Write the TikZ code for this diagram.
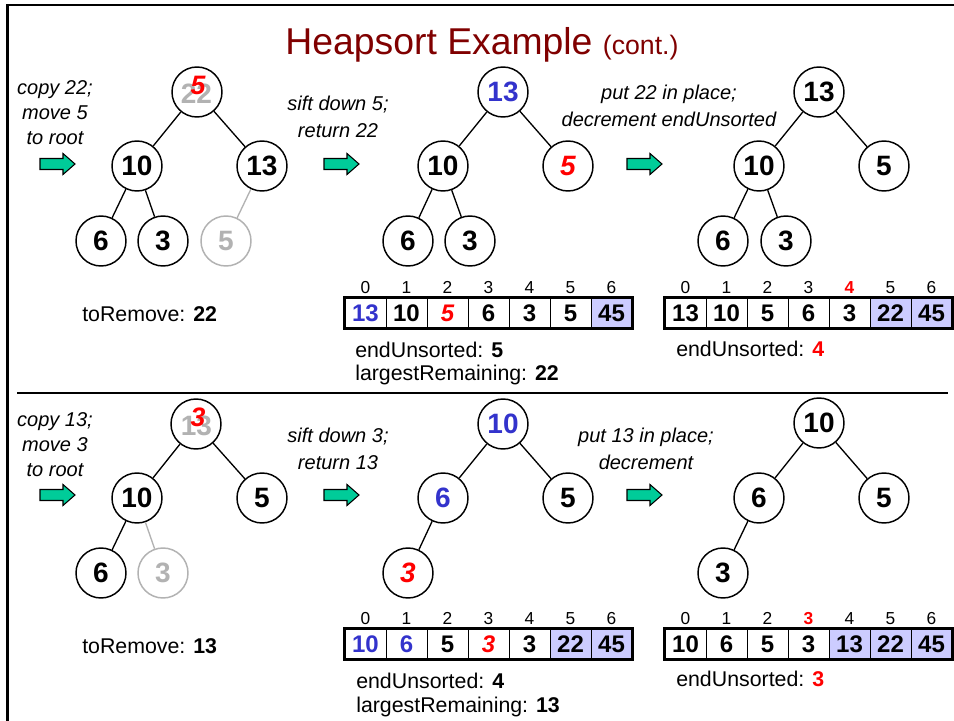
\documentclass[tikz,border=0pt]{standalone}
\usepackage{fontspec}
\setmainfont{Liberation Sans}
\definecolor{hblue}{RGB}{51,51,204}
\definecolor{hred}{RGB}{255,0,0}
\definecolor{hgray}{RGB}{178,178,178}
\definecolor{hlav}{RGB}{204,204,255}
\definecolor{htitle}{RGB}{128,0,0}
\definecolor{hgreen}{RGB}{0,204,153}
\tikzset{
 tn/.style={circle,draw,line width=1.1pt,minimum size=37.5pt,inner sep=0pt,font=\fontsize{21}{24}\selectfont\bfseries},
 tb/.style={text=hblue},
 tr/.style={text=hred,font=\fontsize{21}{24}\selectfont\bfseries\itshape},
 tg/.style={draw=hgray,text=hgray},
 ovl/.style={inner sep=0pt,font=\fontsize{21}{24}\selectfont\bfseries},
 edge/.style={line width=1pt},
 gedge/.style={line width=1pt,draw=hgray},
 cell/.style={draw,line width=0.75pt,minimum width=30.75pt,minimum height=22.5pt,inner sep=0pt,font=\fontsize{18}{20}\selectfont\bfseries},
 cn/.style={},
 cb/.style={text=hblue},
 cr/.style={text=hred,font=\fontsize{18}{20}\selectfont\bfseries\itshape},
 cl/.style={fill=hlav},
 ix/.style={anchor=base,inner sep=0pt,font=\fontsize{13}{15}\selectfont},
 ixr/.style={text=hred,font=\fontsize{13}{15}\selectfont\bfseries},
 note/.style={align=center,inner sep=0pt,font=\fontsize{15}{20}\selectfont\itshape},
 info/.style={anchor=base west,inner sep=0pt,font=\fontsize{16}{19}\selectfont},
 barrow/.style={fill=hgreen,draw=black,line width=0.8pt,line join=miter},
}
\newcommand\greenarrow[2]{%
  \draw[barrow] (#1,#2-5.5) -- ++(23,0) -- ++(0,-5) -- ++(12,10.5) -- ++(-12,10.5) -- ++(0,-5) -- ++(-23,0) -- cycle;}
\newcommand\heaparr[5]{%
  \foreach \i in {0,...,6}{%
    \ifnum\i=#4\relax\def\ixs{ixr}\else\def\ixs{cn}\fi
    \edef\tmp{\noexpand\node[ix,\ixs] (#1-n\i) at ({#2+41*\i+20.5},{#3-20}) {\i};}\tmp
  }%
  \foreach \v/\s [count=\i from 0] in {#5}{%
    \edef\tmp{\noexpand\node[cell,\s] (#1-\i) at ({#2+41*\i+20.5},#3) {\v};}\tmp
  }%
  \draw[line width=2.2pt] (#1-0.north west) rectangle (#1-6.south east);
}
\begin{document}
\begin{tikzpicture}[x=0.75pt,y=-0.75pt]
\useasboundingbox (0,0) rectangle (954,721);
\fill[white] (0,0) rectangle (954,721);
\draw[line width=2pt] (954,5) -- (7.5,5) -- (7.5,721);
\draw[line width=0.8pt] (17,393) -- (948,393);
\node[anchor=base,text=htitle,inner sep=0pt] (title) at (482,55)
  {\fontsize{28}{32}\selectfont Heapsort Example \fontsize{20}{24}\selectfont(cont.)};

% ---- top row ----
\node[note,font=\fontsize{15}{19}\selectfont\itshape] (n1) at (55,112.5) {copy 22;\\move 5\\to root};
\node[note] (n2) at (338,117) {sift down 5;\\return 22};
\node[note] (n3) at (669,106) {put 22 in place;\\decrement endUnsorted};
\greenarrow{40}{164}
\greenarrow{324}{164}
\greenarrow{627}{164}

\node[tn] (a0) at (197,92) {};
\node[ovl,text=hgray] (a0old) at (196.5,94) {22};
\node[ovl,text=hred,font=\fontsize{20}{24}\selectfont\bfseries\itshape] (a0new) at (198,85) {5};
\node[tn] (a1) at (137,166) {10};
\node[tn] (a2) at (262,166) {13};
\node[tn] (a3) at (101,241) {6};
\node[tn] (a4) at (163,241) {3};
\node[tn,tg] (a5) at (226,241) {5};
\draw[edge] (a0) -- (a1);
\draw[edge] (a0) -- (a2);
\draw[edge] (a1) -- (a3);
\draw[edge] (a1) -- (a4);
\draw[gedge] (a2) -- (a5);

\node[tn,tb] (b0) at (503,92) {13};
\node[tn] (b1) at (443,166) {10};
\node[tn,tr] (b2) at (568,166) {5};
\node[tn] (b3) at (408,241) {6};
\node[tn] (b4) at (470,241) {3};
\draw[edge] (b0) -- (b1);
\draw[edge] (b0) -- (b2);
\draw[edge] (b1) -- (b3);
\draw[edge] (b1) -- (b4);

\node[tn] (c0) at (819,92) {13};
\node[tn] (c1) at (759,166) {10};
\node[tn] (c2) at (884,166) {5};
\node[tn] (c3) at (723,241) {6};
\node[tn] (c4) at (786,241) {3};
\draw[edge] (c0) -- (c1);
\draw[edge] (c0) -- (c2);
\draw[edge] (c1) -- (c3);
\draw[edge] (c1) -- (c4);

\heaparr{arrA}{345}{313}{-1}{13/cb,10/cn,5/cr,6/cn,3/cn,5/cn,45/cl}
\heaparr{arrB}{665}{313}{4}{13/cn,10/cn,5/cn,6/cn,3/cn,22/cl,45/cl}

\node[info] (rm1) at (82,321) {toRemove: \textbf{22}};
\node[info] (eu1) at (355,357) {endUnsorted: \textbf{5}};
\node[info] (lr1) at (355,380) {largestRemaining: \textbf{22}};
\node[info] (eu2) at (676,356) {endUnsorted: \textbf{\color{hred}4}};

% ---- bottom row ----
\node[note,font=\fontsize{15}{19}\selectfont\itshape] (n4) at (55,444.5) {copy 13;\\move 3\\to root};
\node[note] (n5) at (338,449) {sift down 3;\\return 13};
\node[note] (n6) at (646,449) {put 13 in place;\\decrement};
\greenarrow{40}{495}
\greenarrow{324}{495}
\greenarrow{627}{495}

\node[tn] (d0) at (196,424) {};
\node[ovl,text=hgray] (d0old) at (196.5,426) {13};
\node[ovl,text=hred,font=\fontsize{20}{24}\selectfont\bfseries\itshape] (d0new) at (198,417) {3};
\node[tn] (d1) at (137,498) {10};
\node[tn] (d2) at (262,498) {5};
\node[tn] (d3) at (101,573) {6};
\node[tn,tg] (d4) at (163,573) {3};
\draw[edge] (d0) -- (d1);
\draw[edge] (d0) -- (d2);
\draw[edge] (d1) -- (d3);
\draw[gedge] (d1) -- (d4);

\node[tn,tb] (e0) at (503,424) {10};
\node[tn,tb] (e1) at (443,498) {6};
\node[tn] (e2) at (568,498) {5};
\node[tn,tr] (e3) at (408,573) {3};
\draw[edge] (e0) -- (e1);
\draw[edge] (e0) -- (e2);
\draw[edge] (e1) -- (e3);

\node[tn] (f0) at (819,423) {10};
\node[tn] (f1) at (759,498) {6};
\node[tn] (f2) at (884,498) {5};
\node[tn] (f3) at (723,573) {3};
\draw[edge] (f0) -- (f1);
\draw[edge] (f0) -- (f2);
\draw[edge] (f1) -- (f3);

\heaparr{arrC}{345}{644}{-1}{10/cb,6/cb,5/cn,3/cr,3/cn,22/cl,45/cl}
\heaparr{arrD}{665}{644}{3}{10/cn,6/cn,5/cn,3/cn,13/cl,22/cl,45/cl}

\node[info] (rm2) at (82,653) {toRemove: \textbf{13}};
\node[info] (eu3) at (356,688) {endUnsorted: \textbf{4}};
\node[info] (lr3) at (356,712) {largestRemaining: \textbf{13}};
\node[info] (eu4) at (676,686) {endUnsorted: \textbf{\color{hred}3}};
\end{tikzpicture}
\end{document}
